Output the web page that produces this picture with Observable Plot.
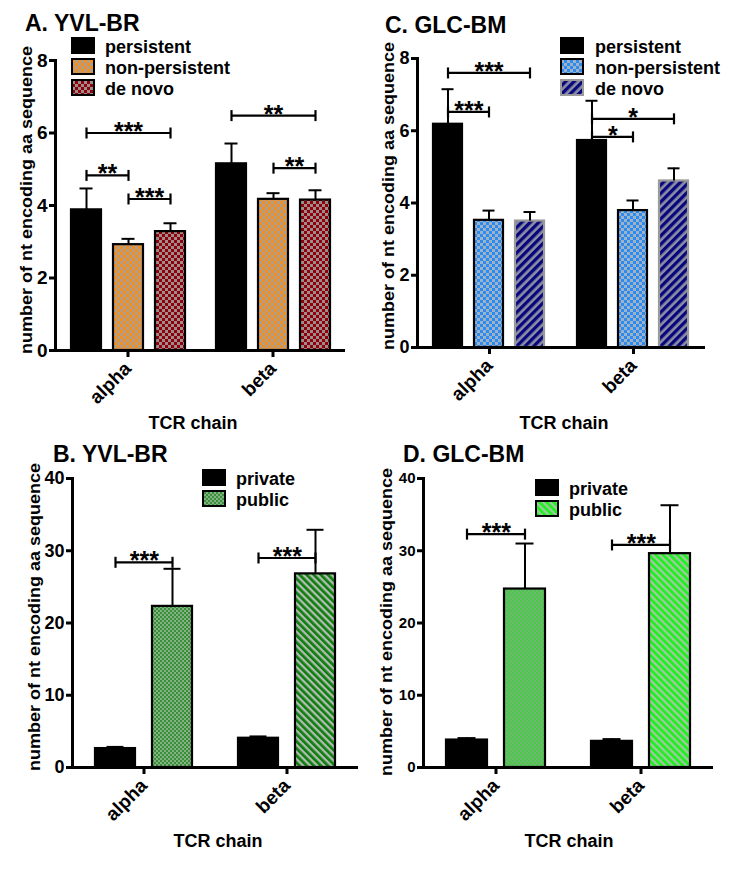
<!DOCTYPE html>
<html>
<head>
<meta charset="utf-8">
<script src="https://cdn.jsdelivr.net/npm/d3@7"></script>
<script src="https://cdn.jsdelivr.net/npm/@observablehq/plot@0.6"></script>
<style>
  html, body { margin: 0; padding: 0; background: #fff; }
  #root { position: relative; width: 733px; height: 870px; overflow: hidden; font-family: "Liberation Sans", Arial, sans-serif; }
  .panel { position: absolute; }
  #overlay { position: absolute; left: 0; top: 0; pointer-events: none; }
  #overlay text { font-family: "Liberation Sans", Arial, sans-serif; font-weight: bold; fill: #000; }
</style>
</head>
<body>
<div id="root">
  <div class="panel" id="pA" style="left:0px;top:0px"></div>
  <div class="panel" id="pC" style="left:360px;top:0px"></div>
  <div class="panel" id="pB" style="left:0px;top:420px"></div>
  <div class="panel" id="pD" style="left:360px;top:420px"></div>
  <svg id="overlay" width="733" height="870" xmlns="http://www.w3.org/2000/svg">
    <defs>
      <pattern id="pOrange" width="6" height="6" patternUnits="userSpaceOnUse">
        <rect width="6" height="6" fill="#b09e8a"/>
        <rect width="3" height="3" fill="#f08e22"/>
        <rect x="3" y="3" width="3" height="3" fill="#f08e22"/>
      </pattern>
      <pattern id="pRed" width="6" height="6" patternUnits="userSpaceOnUse">
        <rect width="6" height="6" fill="#9e8c8a"/>
        <rect width="3" height="3" fill="#90000c"/>
        <rect x="3" y="3" width="3" height="3" fill="#90000c"/>
      </pattern>
      <pattern id="pBlue" width="6" height="6" patternUnits="userSpaceOnUse">
        <rect width="6" height="6" fill="#a2b2c6"/>
        <rect width="3" height="3" fill="#2a8cf0"/>
        <rect x="3" y="3" width="3" height="3" fill="#2a8cf0"/>
      </pattern>
      <pattern id="pNavy" width="6" height="6" patternUnits="userSpaceOnUse" patternTransform="rotate(45)">
        <rect width="6" height="6" fill="#8d8da6"/>
        <rect width="3.3" height="6" fill="#07077c"/>
      </pattern>
      <pattern id="pGreenChk" width="4" height="4" patternUnits="userSpaceOnUse">
        <rect width="4" height="4" fill="#82b282"/>
        <rect width="2" height="2" fill="#3b8f3b"/>
        <rect x="2" y="2" width="2" height="2" fill="#3b8f3b"/>
      </pattern>
      <pattern id="pGreenStripe" width="5" height="5" patternUnits="userSpaceOnUse" patternTransform="rotate(-45)">
        <rect width="5" height="5" fill="#b2bcb2"/>
        <rect width="2.7" height="5" fill="#0d7d0d"/>
      </pattern>
      <pattern id="pLimeChk" width="4" height="4" patternUnits="userSpaceOnUse">
        <rect width="4" height="4" fill="#6cba6c"/>
        <rect width="2" height="2" fill="#4cc64c"/>
        <rect x="2" y="2" width="2" height="2" fill="#4cc64c"/>
      </pattern>
      <pattern id="pLimeStripe" width="5" height="5" patternUnits="userSpaceOnUse" patternTransform="rotate(-45)">
        <rect width="5" height="5" fill="#a6c6a6"/>
        <rect width="2.8" height="5" fill="#1ff01f"/>
      </pattern>
    </defs>
    <g id="ann"></g>
  </svg>
</div>
<script>
// ---------------- DATA ----------------
const chains = ["alpha", "beta"];

// A. YVL-BR : persistence groups
const groupsA = ["persistent", "non-persistent", "de novo"];
const meanA_alpha = [3.88, 2.92, 3.28];
const upperA_alpha = [4.47, 3.08, 3.51];
const meanA_beta = [5.15, 4.17, 4.15];
const upperA_beta = [5.71, 4.34, 4.42];
const bracketsA = [
  {chain: "alpha", from: "persistent", to: "de novo", y: 6.0, stars: "***"},
  {chain: "alpha", from: "persistent", to: "non-persistent", y: 4.83, stars: "**"},
  {chain: "alpha", from: "non-persistent", to: "de novo", y: 4.18, stars: "***"},
  {chain: "beta", from: "persistent", to: "de novo", y: 6.48, stars: "**"},
  {chain: "beta", from: "non-persistent", to: "de novo", y: 5.03, stars: "**"}
];

// C. GLC-BM : persistence groups
const groupsC = ["persistent", "non-persistent", "de novo"];
const meanC_alpha = [6.18, 3.52, 3.50];
const upperC_alpha = [7.15, 3.79, 3.75];
const meanC_beta = [5.73, 3.79, 4.61];
const upperC_beta = [6.83, 4.07, 4.96];
const bracketsC = [
  {chain: "alpha", from: "persistent", to: "de novo", y: 7.6, stars: "***"},
  {chain: "alpha", from: "persistent", to: "non-persistent", y: 6.52, stars: "***"},
  {chain: "beta", from: "persistent", to: "de novo", y: 6.33, stars: "*"},
  {chain: "beta", from: "persistent", to: "non-persistent", y: 5.83, stars: "*"}
];

// B. YVL-BR : sharing groups
const groupsB = ["private", "public"];
const meanB_alpha = [2.62, 22.3];
const upperB_alpha = [2.85, 27.5];
const meanB_beta = [4.05, 26.8];
const upperB_beta = [4.3, 32.9];
const bracketsB = [
  {chain: "alpha", from: "private", to: "public", y: 28.4, stars: "***"},
  {chain: "beta", from: "private", to: "public", y: 29.0, stars: "***"}
];

// D. GLC-BM : sharing groups
const groupsD = ["private", "public"];
const meanD_alpha = [3.8, 24.7];
const upperD_alpha = [4.07, 31.0];
const meanD_beta = [3.62, 29.6];
const upperD_beta = [3.93, 36.3];
const bracketsD = [
  {chain: "alpha", from: "private", to: "public", y: 32.3, stars: "***"},
  {chain: "beta", from: "private", to: "public", y: 30.8, stars: "***"}
];

const ticks8 = [0, 2, 4, 6, 8];
const ticks40 = [0, 10, 20, 30, 40];

// ---------------- STYLES ----------------
const fillA = {alpha: ["black", "url(#pOrange)", "url(#pRed)"], beta: ["black", "url(#pOrange)", "url(#pRed)"]};
const strokeA = {alpha: ["black", "black", "black"], beta: ["black", "black", "black"]};
const fillC = {alpha: ["black", "url(#pBlue)", "url(#pNavy)"], beta: ["black", "url(#pBlue)", "url(#pNavy)"]};
const strokeC = {alpha: ["black", "black", "#9a9a9a"], beta: ["black", "black", "#9a9a9a"]};
const fillB = {alpha: ["black", "url(#pGreenChk)"], beta: ["black", "url(#pGreenStripe)"]};
const fillD = {alpha: ["black", "url(#pLimeChk)"], beta: ["black", "url(#pLimeStripe)"]};
const strokeBD = {alpha: ["black", "black"], beta: ["black", "black"]};

function rows(groups, means, uppers) {
  return chains.flatMap((c, ci) => groups.map((g, gi) => ({chain: c, group: g, mean: means[ci][gi], upper: uppers[ci][gi]})));
}

const vbar = {
  draw(ctx, size) {
    const r = Math.sqrt(size / Math.PI);
    ctx.moveTo(0, -r);
    ctx.lineTo(0, r);
  }
};

function drawPanel(cfg) {
  const {el, width, height, ml, mr, mt, mb, groups, data, fills, strokes, yMax, yTicks, pInner, pOuter, capInset, brackets, tickFont} = cfg;
  const fw = (width - ml - mr) / chains.length;
  const step = fw / (groups.length - pInner + 2 * pOuter);
  const ends = brackets.flatMap(b => [{chain: b.chain, group: b.from, y: b.y}, {chain: b.chain, group: b.to, y: b.y}]);
  const labels = brackets.map(b => {
    const i = groups.indexOf(b.from), j = groups.indexOf(b.to);
    const span = j - i;
    return {...b, even: span % 2 === 0, anchor: span % 2 === 0 ? groups[i + span / 2] : groups[i + Math.floor(span / 2)]};
  });
  const gi = d => groups.indexOf(d.group);
  const plot = Plot.plot({
    width, height,
    marginLeft: ml, marginRight: mr, marginTop: mt, marginBottom: mb,
    style: {fontFamily: "'Liberation Sans', Arial, sans-serif", fontWeight: "bold", fontSize: "17px", color: "black", background: "transparent", overflow: "visible"},
    fx: {domain: chains, padding: 0},
    x: {domain: groups, paddingInner: pInner, paddingOuter: pOuter, axis: null},
    y: {domain: [0, yMax], axis: null},
    color: {type: "identity"},
    marks: [
      Plot.barY(data, {fx: "chain", x: "group", y: "mean", fill: d => fills[d.chain][gi(d)], stroke: d => strokes[d.chain][gi(d)], strokeWidth: 2.2}),
      Plot.ruleX(data, {fx: "chain", x: "group", y1: "mean", y2: "upper", stroke: "black", strokeWidth: 2}),
      Plot.tickY(data, {fx: "chain", x: "group", y: "upper", stroke: "black", strokeWidth: 2, insetLeft: capInset, insetRight: capInset}),
      Plot.ruleY([0], {stroke: "black", strokeWidth: 3}),
      Plot.frame({anchor: "left", facetAnchor: "left", stroke: "black", strokeWidth: 3}),
      Plot.axisY({ticks: yTicks, tickSize: 6, tickPadding: 2, strokeWidth: 3, label: null, fontSize: tickFont}),
      Plot.axisFx({anchor: "bottom", tickRotate: -45, tickSize: 7, tickPadding: 8, strokeWidth: 3, label: null, fontSize: 19}),
      Plot.link(brackets, {fx: "chain", x1: "from", x2: "to", y1: "y", y2: "y", stroke: "black", strokeWidth: 2.2}),
      Plot.dot(ends, {fx: "chain", x: "group", y: "y", symbol: vbar, r: 5.5, fill: "none", stroke: "black", strokeWidth: 2.2}),
      Plot.text(labels.filter(d => d.even), {fx: "chain", x: "anchor", y: "y", text: "stars", fontSize: 25, fontWeight: "bold", dy: -1}),
      Plot.text(labels.filter(d => !d.even), {fx: "chain", x: "anchor", y: "y", text: "stars", fontSize: 25, fontWeight: "bold", dy: -1, dx: step / 2})
    ]
  });
  document.getElementById(el).appendChild(plot);
}

drawPanel({el: "pA", width: 366, height: 430, ml: 55, mr: 21, mt: 60, mb: 80,
  groups: groupsA, data: rows(groupsA, [meanA_alpha, meanA_beta], [upperA_alpha, upperA_beta]),
  fills: fillA, strokes: strokeA, yMax: 8, yTicks: ticks8, pInner: 0.29, pOuter: 0.37, capInset: 8.5, brackets: bracketsA, tickFont: 19});
drawPanel({el: "pC", width: 366, height: 430, ml: 57, mr: 21, mt: 58, mb: 83,
  groups: groupsC, data: rows(groupsC, [meanC_alpha, meanC_beta], [upperC_alpha, upperC_beta]),
  fills: fillC, strokes: strokeC, yMax: 8, yTicks: ticks8, pInner: 0.29, pOuter: 0.37, capInset: 8.5, brackets: bracketsC, tickFont: 18});
drawPanel({el: "pB", width: 366, height: 440, ml: 72, mr: 8, mt: 58, mb: 93,
  groups: groupsB, data: rows(groupsB, [meanB_alpha, meanB_beta], [upperB_alpha, upperB_beta]),
  fills: fillB, strokes: strokeBD, yMax: 40, yTicks: ticks40, pInner: 0.29, pOuter: 0.38, capInset: 11.5, brackets: bracketsB, tickFont: 18});
drawPanel({el: "pD", width: 366, height: 440, ml: 63, mr: 13, mt: 58, mb: 93,
  groups: groupsD, data: rows(groupsD, [meanD_alpha, meanD_beta], [upperD_alpha, upperD_beta]),
  fills: fillD, strokes: strokeBD, yMax: 40, yTicks: ticks40, pInner: 0.29, pOuter: 0.38, capInset: 11.5, brackets: bracketsD, tickFont: 15});

// ---------------- ANNOTATIONS (titles, axis labels, legends) ----------------
const NS = "http://www.w3.org/2000/svg";
const ann = document.getElementById("ann");
function svgEl(tag, attrs, text) {
  const e = document.createElementNS(NS, tag);
  for (const k in attrs) e.setAttribute(k, attrs[k]);
  if (text != null) e.textContent = text;
  ann.appendChild(e);
  return e;
}
const titles = [["A. YVL-BR", 25, 31], ["C. GLC-BM", 385, 33], ["B. YVL-BR", 53, 462], ["D. GLC-BM", 403, 462]];
titles.forEach(([t, x, y]) => svgEl("text", {x, y, "font-size": 23}, t));

const yLabel = "number of nt encoding aa sequence";
[[32, 200], [394, 196], [40, 617], [392, 622]].forEach(([x, y]) =>
  svgEl("text", {x: 0, y: 0, "font-size": 17, "text-anchor": "middle", textLength: 308, lengthAdjust: "spacingAndGlyphs", transform: `translate(${x},${y}) rotate(-90)`}, yLabel));

const xLabel = "TCR chain";
[[193, 429], [564, 429], [218, 847], [569, 847]].forEach(([x, y]) =>
  svgEl("text", {x, y, "font-size": 18, "text-anchor": "middle"}, xLabel));

function legend(items, sx, tx, baselines) {
  items.forEach(([label, fill, stroke], i) => {
    const b = baselines[i];
    svgEl("rect", {x: sx, y: b - 15, width: 22, height: 15, fill, stroke, "stroke-width": 2});
    svgEl("text", {x: tx, y: b, "font-size": 18}, label);
  });
}
legend(groupsA.map((g, i) => [g, fillA.alpha[i], strokeA.alpha[i]]), 72, 105, [53, 74, 95]);
legend(groupsC.map((g, i) => [g, fillC.alpha[i], strokeC.alpha[i]]), 561, 595, [53, 74, 95]);
legend(groupsB.map((g, i) => [g, fillB.alpha[i], "black"]), 203, 236, [485, 506]);
legend(groupsD.map((g, i) => [g, fillD.beta[i], "black"]), 536, 569, [495, 516]);
</script>
</body>
</html>
